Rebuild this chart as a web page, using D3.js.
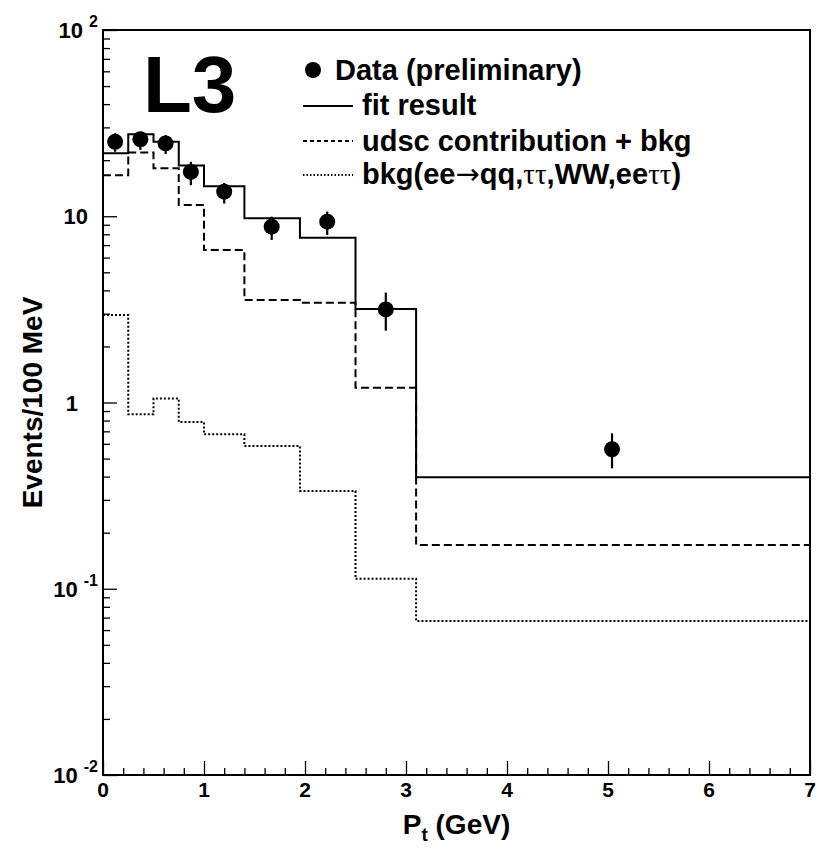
<!DOCTYPE html>
<html><head><meta charset="utf-8">
<script src="https://cdn.jsdelivr.net/npm/d3@7"></script>
<style>
body{margin:0;background:#fff}
svg{display:block}
text{font-family:"Liberation Sans",Arial,Helvetica,sans-serif;font-weight:bold;fill:#000}
</style>
</head><body>
<svg id="c" width="820" height="850"></svg>
<script>
// ---- data ----
const binEdges   = [0, 0.25, 0.5, 0.75, 1.0, 1.4, 1.95, 2.5, 3.1, 7.0];
const fitValues  = [21.8, 27.6, 25.1, 18.7, 14.5, 9.75, 7.67, 3.18, 0.397];
const udscValues = [16.6, 22.0, 18.1, 11.5, 6.59, 3.55, 3.43, 1.20, 0.172];
const bkgValues  = [2.95, 0.864, 1.05, 0.786, 0.675, 0.584, 0.335, 0.113, 0.0671];

const dataX       = [0.12, 0.37, 0.62, 0.87, 1.2, 1.67, 2.22, 2.8, 5.04];
const dataY       = [25.1, 25.9, 24.6, 17.3, 13.55, 8.79, 9.35, 3.16, 0.561];
const dataErrLow  = [22.2, 22.7, 21.6, 14.7, 11.7, 7.46, 7.93, 2.43, 0.443];
const dataErrHigh = [27.9, 28.4, 27.3, 19.6, 15.1, 9.95, 10.6, 3.89, 0.683];

const xTicks      = [0, 1, 2, 3, 4, 5, 6, 7];
const yTicks      = [0.01, 0.1, 1, 10, 100];
const yTickBase   = ["10", "10", "1", "10", "10"];
const yTickExp    = ["-2", "-1", "", "", "2"];

const legendLabels = ["Data (preliminary)", "fit result", "udsc contribution + bkg"];

// ---- layout ----
const L = 103, R = 810, T = 30, B = 775;
const svg = d3.select("#c");
const x = d3.scaleLinear().domain([0, 7]).range([L, R]);
const y = d3.scaleLog().domain([0.01, 100]).range([B, T]);

// minor ticks
const xMinor = d3.range(0, 7.0001, 0.2).filter(v => Math.abs(v - Math.round(v)) > 1e-6);
const yMinor = [];
[0.01, 0.1, 1, 10].forEach(d => { for (let k = 2; k <= 9; k++) yMinor.push(d * k); });

// axes (ticks inside)
const gx = svg.append("g").attr("transform", `translate(0,${B})`);
gx.call(d3.axisBottom(x).tickValues(xTicks).tickSize(-14).tickFormat(""));
const gxm = svg.append("g").attr("transform", `translate(0,${B})`);
gxm.call(d3.axisBottom(x).tickValues(xMinor).tickSize(-7).tickFormat(""));
const gy = svg.append("g").attr("transform", `translate(${L},0)`);
gy.call(d3.axisLeft(y).tickValues(yTicks).tickSize(-14).tickFormat(""));
const gym = svg.append("g").attr("transform", `translate(${L},0)`);
gym.call(d3.axisLeft(y).tickValues(yMinor).tickSize(-7).tickFormat(""));
svg.selectAll(".domain").remove();
svg.selectAll(".tick line").attr("stroke", "#000").attr("stroke-width", 1.3);

// x tick labels
svg.append("g").selectAll("text").data(xTicks).join("text")
  .attr("x", d => x(d)).attr("y", B + 22)
  .attr("text-anchor", "middle").attr("font-size", 21)
  .text(d => d);

// y tick labels
yTicks.forEach((v, i) => {
  const yy = y(v) + 8;
  if (yTickExp[i]) {
    const t = svg.append("text").attr("x", 98).attr("y", yy)
      .attr("text-anchor", "end").attr("font-size", 22);
    t.append("tspan").text(yTickBase[i]);
    t.append("tspan").attr("dx", 6).attr("dy", -11).attr("font-size", 16).text(yTickExp[i]);
  } else {
    svg.append("text").attr("x", yTickBase[i] === "1" ? 78 : 88).attr("y", yy)
      .attr("text-anchor", "end").attr("font-size", 22).text(yTickBase[i]);
  }
});

// histograms
function stepPts(vals) {
  const pts = vals.map((v, i) => [binEdges[i], v]);
  pts.push([binEdges[binEdges.length - 1], vals[vals.length - 1]]);
  return pts;
}
const line = d3.line().x(d => x(d[0])).y(d => y(d[1])).curve(d3.curveStepAfter);
svg.append("path").attr("d", line(stepPts(bkgValues)))
  .attr("fill", "none").attr("stroke", "#000").attr("stroke-width", 2).attr("stroke-dasharray", "2,2");
svg.append("path").attr("d", line(stepPts(udscValues)))
  .attr("fill", "none").attr("stroke", "#000").attr("stroke-width", 2).attr("stroke-dasharray", "8,4");
svg.append("path").attr("d", line(stepPts(fitValues)))
  .attr("fill", "none").attr("stroke", "#000").attr("stroke-width", 2);

// data points
const gd = svg.append("g");
gd.selectAll("line").data(dataX).join("line")
  .attr("x1", d => x(d)).attr("x2", d => x(d))
  .attr("y1", (d, i) => y(dataErrHigh[i])).attr("y2", (d, i) => y(dataErrLow[i]))
  .attr("stroke", "#000").attr("stroke-width", 2.2);
gd.selectAll("circle").data(dataX).join("circle")
  .attr("cx", d => x(d)).attr("cy", (d, i) => y(dataY[i])).attr("r", 8).attr("fill", "#000");

// frame
svg.append("rect").attr("x", L).attr("y", T).attr("width", R - L).attr("height", B - T)
  .attr("fill", "none").attr("stroke", "#000").attr("stroke-width", 2);

// L3
svg.append("text").attr("x", 143).attr("y", 112).attr("font-size", 80).text("L3");

// legend
const FS = 29;
svg.append("circle").attr("cx", 313).attr("cy", 70).attr("r", 8).attr("fill", "#000");
svg.append("text").attr("x", 335).attr("y", 80).attr("font-size", FS).text(legendLabels[0]);
svg.append("line").attr("x1", 303).attr("x2", 353).attr("y1", 106).attr("y2", 106)
  .attr("stroke", "#000").attr("stroke-width", 2);
svg.append("text").attr("x", 362).attr("y", 115).attr("font-size", FS).text(legendLabels[1]);
svg.append("line").attr("x1", 303).attr("x2", 353).attr("y1", 141).attr("y2", 141)
  .attr("stroke", "#000").attr("stroke-width", 2).attr("stroke-dasharray", "4,3");
svg.append("text").attr("x", 362).attr("y", 151).attr("font-size", FS).text(legendLabels[2]);
svg.append("line").attr("x1", 303).attr("x2", 353).attr("y1", 175).attr("y2", 175)
  .attr("stroke", "#000").attr("stroke-width", 2).attr("stroke-dasharray", "1.5,2");
const tb = svg.append("text").attr("x", 362).attr("y", 184).attr("font-size", FS);
const sym = (s, fam) => tb.append("tspan").attr("font-family", fam).attr("font-weight", "normal").text(s);
tb.append("tspan").text("bkg(ee");
sym("\u2192", "'DejaVu Sans',sans-serif");
tb.append("tspan").text("qq,");
sym("\u03c4\u03c4", "'Liberation Serif','DejaVu Serif',serif");
tb.append("tspan").text(",WW,ee");
sym("\u03c4\u03c4", "'Liberation Serif','DejaVu Serif',serif");
tb.append("tspan").text(")");

// axis titles
const xt = svg.append("text").attr("x", (L + R) / 2).attr("y", 834)
  .attr("text-anchor", "middle").attr("font-size", 28);
xt.append("tspan").text("P");
xt.append("tspan").attr("font-size", 19).attr("dy", 7).text("t");
xt.append("tspan").attr("dy", -7).text(" (GeV)");

svg.append("text").attr("transform", `translate(42,${(T + B) / 2}) rotate(-90)`)
  .attr("text-anchor", "middle").attr("font-size", 28).text("Events/100 MeV");
</script>
</body></html>
